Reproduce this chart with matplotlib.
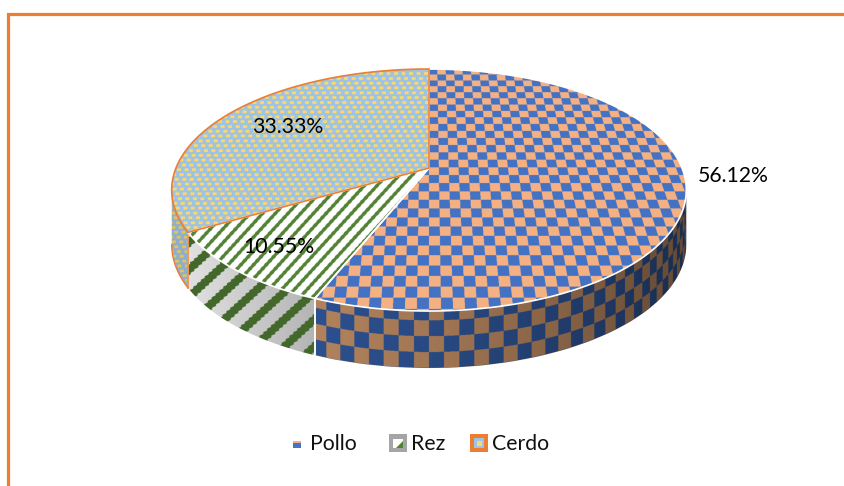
import numpy as np
import matplotlib
matplotlib.use("Agg")
import matplotlib.pyplot as plt
from matplotlib.patches import Polygon, Rectangle

categories = ["Pollo", "Rez", "Cerdo"]
values = [56.12, 10.55, 33.33]
label_pos = [(733, 176), (279, 247), (288, 127)]

W, H = 845, 486
plt.rcParams['font.family'] = ['Lato', 'DejaVu Sans']
fig = plt.figure(figsize=(W/100, H/100), dpi=100, facecolor='white')
ax = fig.add_axes([0, 0, 1, 1])
ax.set_xlim(0, W); ax.set_ylim(H, 0); ax.axis('off')

# projection of the pie disc
CX, CY, A, B, K = 429.0, 168.0, 253.0, 117.0, 0.182
def proj(th):
    u, v = np.sin(th), np.cos(th)
    w = 1 + K*v
    return CX + A*u/w, CY - B*v/w
def depth(th):
    return 57 - 3.0*(np.cos(th) + 1)
def unproj(x, y):
    q = (CY - y)/B
    v = q/(1 - K*q)
    w = 1 + K*v
    return (x - CX)*w/A, v

SS = 3
xs = (np.arange(W*SS) + .5)/SS
ys = (np.arange(H*SS) + .5)/SS
X, Y = np.meshgrid(xs, ys)
U, V = unproj(X, Y)
def rgb(h):
    return np.array(matplotlib.colors.to_rgb(h))

def tex_checker():
    m = (np.floor(U/0.039) + np.floor(V/0.066)).astype(int) % 2 == 0
    return np.where(m[..., None], rgb('#4472C4'), rgb('#F4B183'))
def tex_stripes():
    p = ((X + 0.92*Y + 0.25*np.sin(Y*1.6))/12.7) % 1
    return np.where((p < .36)[..., None], rgb('#548235'), rgb('#FFFFFF'))
def tex_dots():
    py, px = 4.8, 7.5
    r = np.floor(Y/py)
    xx = (X + r*px/2 + r*1.1) % px
    yy = Y % py
    d = (np.abs(xx - px/2) < 2.0) & (np.abs(yy - py/2) < 1.35)
    return np.where(d[..., None], rgb('#FFD966'), rgb('#9DC3E6'))
top_tex = [tex_checker, tex_stripes, tex_dots]

# side param
tt = np.radians(np.linspace(100.5, 259.5, 2000))
tx, ty = proj(tt)
order = np.argsort(tx)
TH = np.interp(X, tx[order], tt[order])
ytop = proj(TH)[1]
T = (Y - ytop)/depth(TH)
shade = np.interp(X, [180, 315, 430, 560, 690], [.9, .9, .82, .68, .5])[..., None]
def side_checker():
    m = (np.floor((TH - np.pi)/0.049) + np.floor((T + 0.11)*3.6)).astype(int) % 2 == 0
    c = np.where(m[..., None], rgb('#2F5597'), rgb('#BC8A62')) * shade
    return np.clip(c*1.05, 0, 1)
def side_stripes():
    p = ((X + 1.1*Y + 0.8*np.sin(Y*1.8))/30.0) % 1
    g = np.interp(X, [190, 320], [.88, .70])[..., None]*np.ones(3)
    return np.where((p < .4)[..., None], rgb('#43682B'), g)
def side_dots():
    return tex_dots()*0.9
side_tex = [side_checker, side_stripes, side_dots]

# wedges from the values
fracs = np.array(values)/sum(values)
edges = np.concatenate([[0], np.cumsum(fracs)])*2*np.pi
vis0, vis1 = np.radians(100.5), np.radians(259.5)
extent = (0, W, H, 0)
for i in range(3):
    a0, a1 = max(edges[i], vis0), min(edges[i+1], vis1)
    if a1 <= a0:
        continue
    th = np.linspace(a0, a1, 200)
    xt, yt = proj(th)
    pts = np.r_[np.c_[xt, yt], np.c_[xt, yt + depth(th)][::-1]]
    clip = Polygon(pts, closed=True, transform=ax.transData, fc='none', ec='none')
    ax.add_patch(clip)
    im = ax.imshow(side_tex[i](), extent=extent, interpolation='hanning', aspect='auto', zorder=1)
    im.set_clip_path(clip)
    sep = ['white', 'white', '#ED7D31'][i]
    # only true slice boundaries get an edge line, not the silhouette
    if edges[i] > vis0:
        ax.plot(pts[[-1, 0], 0], pts[[-1, 0], 1], color=sep, lw=1.1, zorder=3)
    if edges[i+1] < vis1:
        ax.plot(pts[[199, 200], 0], pts[[199, 200], 1], color=sep, lw=1.1, zorder=3)
    if i == 2:
        ax.plot(xt, yt + depth(th), color=sep, lw=1.0, zorder=3)

for i in range(3):
    th = np.linspace(edges[i], edges[i+1], 300)
    xt, yt = proj(th)
    pts = np.r_[[[CX, CY]], np.c_[xt, yt]]
    clip = Polygon(pts, closed=True, transform=ax.transData, fc='none', ec='none')
    ax.add_patch(clip)
    im = ax.imshow(top_tex[i](), extent=extent, interpolation='hanning', aspect='auto', zorder=2)
    im.set_clip_path(clip)
    ax.add_patch(Polygon(pts, closed=True, fc='none',
                         ec=['white', 'white', '#ED7D31'][i], lw=1.2, zorder=4 + (i == 2)))

ax.set_xlim(0, W); ax.set_ylim(H, 0)

for v, (x, y) in zip(values, label_pos):
    ax.text(x, y, f"{v:.2f}%", fontsize=15.3, color='black', ha='center', va='center', zorder=10)

# legend
ax.add_patch(Rectangle((293, 441), 8, 7, fc='#4472C4', ec='none', zorder=6))
ax.add_patch(Rectangle((293, 441), 8, 2, fc='#F4B183', ec='none', zorder=6))
ax.add_patch(Rectangle((389, 434), 18, 18, fc='#A5A5A5', ec='none', zorder=6))
ax.add_patch(Rectangle((393, 439), 10, 9, fc='white', ec='none', zorder=7))
ax.add_patch(Polygon([(396, 448), (403, 448), (403, 441)], fc='#548235', ec='none', zorder=8))
ax.add_patch(Rectangle((470, 434), 18, 18, fc='#ED7D31', ec='none', zorder=6))
ax.add_patch(Rectangle((474, 438), 10, 10, fc='#9DC3E6', ec='none', zorder=7))
ax.add_patch(Rectangle((477, 441), 5, 5, fc='#FFD966', ec='none', zorder=8))
for name, x in zip(categories, [310, 411, 492]):
    ax.text(x, 450, name, fontsize=15.3, color='#111111', ha='left', va='baseline', zorder=10)

# chart frame (cropped at right and bottom)
ax.plot([8.5, 8.5, W], [H, 14, 14], color='#ED7D31', lw=2.3, solid_joinstyle='miter', zorder=9)

fig.savefig('out.png', dpi=100)
